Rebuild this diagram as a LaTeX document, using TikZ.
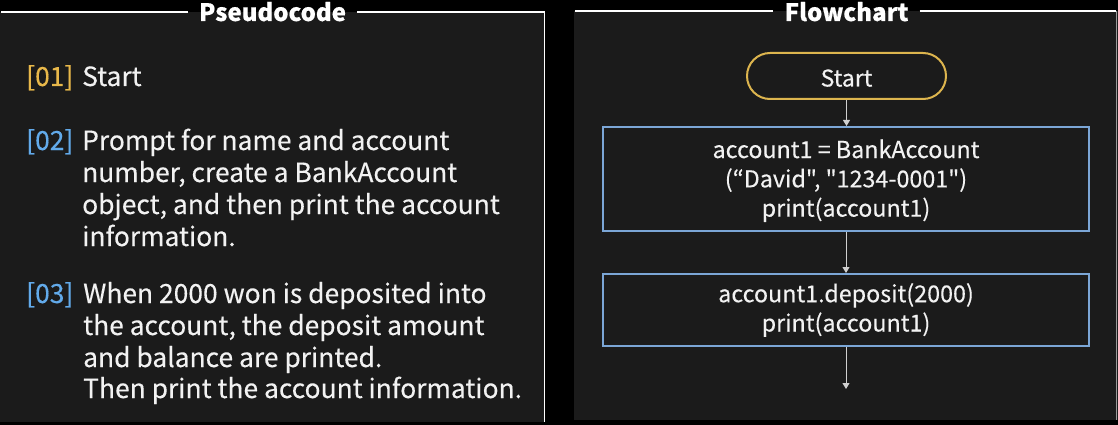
\documentclass[tikz,border=0pt]{standalone}
\usepackage{fontspec}
\setmainfont{Noto Sans CJK KR}[FakeBold=0.3]
\newfontfamily\flowfont{Noto Sans CJK KR}[FakeBold=0.3]
\usetikzlibrary{arrows.meta,shapes.misc}
\definecolor{panelbg}{HTML}{1B1B1B}
\definecolor{lblyellow}{HTML}{E8B84A}
\definecolor{lblblue}{HTML}{62AAEA}
\definecolor{boxblue}{HTML}{7BA6D6}
\definecolor{startgold}{HTML}{DDB54E}
\definecolor{textwhite}{HTML}{F2F2F2}
\definecolor{arrowgray}{HTML}{D0D0D0}
\definecolor{edgegray}{HTML}{9A9A9A}
\tikzset{
  ptext/.style={anchor=base west, inner sep=0pt, text=textwhite, font=\fontsize{26.4}{32}\selectfont},
  plabel/.style={anchor=base west, inner sep=0pt, font=\fontsize{26.4}{32}\selectfont},
  paneltitle/.style={anchor=base, inner xsep=11pt, inner ysep=0pt, text=white, font=\bfseries\fontsize{24}{28}\selectfont},
  frameline/.style={draw=white, line width=1.5pt},
  flowbox/.style={draw=boxblue, line width=2pt, minimum width=486pt, inner sep=0pt, text=textwhite, align=center, font=\flowfont\fontsize{23.3}{29.3}\selectfont},
  terminal/.style={draw=startgold, line width=2pt, rounded rectangle, minimum width=199pt, minimum height=46pt, inner sep=0pt, text height=21pt, text depth=0pt, text=textwhite, font=\flowfont\fontsize{23}{26}\selectfont},
  flow/.style={draw=arrowgray, line width=1pt, -{Triangle[width=7pt,length=6pt]}}
}
\begin{document}
\begin{tikzpicture}[x=1pt,y=-1pt]
\useasboundingbox (0,0) rectangle (1118,425);
\fill[black] (0,0) rectangle (1118,425);
% panels
\fill[panelbg] (0,12) rectangle (545,422);
\fill[panelbg] (574,11) rectangle (1118,420);
% titles
\node[paneltitle] (t1) at (272.5,21) {Pseudocode};
\node[paneltitle] (t2) at (846.5,21) {Flowchart};
\coordinate (lpTL) at (1,12);
\coordinate (lpTR) at (544.5,12);
\coordinate (lpBR) at (544.5,422);
\coordinate (rpTL) at (575,11);
\coordinate (rpTR) at (1116,11);
\coordinate (rpBR) at (1116,420);
\draw[frameline] (lpTL) -- (t1.west |- lpTL);
\draw[frameline] (t1.east |- lpTR) -- (lpTR) -- (lpBR);
\draw[frameline] (rpTL) -- (t2.west |- rpTL);
\draw[frameline] (t2.east |- rpTR) -- (rpTR);
\draw[edgegray, line width=1pt] (rpTR) -- (rpBR);
% pseudocode
\node[plabel, text=lblyellow] (l1) at (26,86) {[01]};
\node[ptext] (s1) at (82,86) {Start};
\node[plabel, text=lblblue] (l2) at (26,150) {[02]};
\node[ptext] (s2a) at (82,150) {Prompt for name and account};
\node[ptext] (s2b) at (82,182) {number, create a BankAccount};
\node[ptext] (s2c) at (82,214) {object, and then print the account};
\node[ptext] (s2d) at (82,246) {information.};
\node[plabel, text=lblblue] (l3) at (26,303) {[03]};
\node[ptext] (s3a) at (83,303) {When 2000 won is deposited into};
\node[ptext] (s3b) at (83,335) {the account, the deposit amount};
\node[ptext] (s3c) at (83,367) {and balance are printed.};
\node[ptext] (s3d) at (83,398) {Then print the account information.};
% flowchart
\node[terminal] (start) at (846.5,76) {Start};
\node[flowbox, minimum height=104pt] (b1) at (846,179) {\rule{0pt}{22pt}account1 = BankAccount\\(“David", "1234-0001")\\print(account1)};
\node[flowbox, minimum height=72pt] (b2) at (846,310) {account1.deposit(2000)\\print(account1)};
\coordinate (end) at (846,389);
\draw[flow] (start.south) -- (start.south |- b1.north);
\draw[flow] (b1.south) -- (b2.north);
\draw[flow] (b2.south) -- (end);
\end{tikzpicture}
\end{document}
